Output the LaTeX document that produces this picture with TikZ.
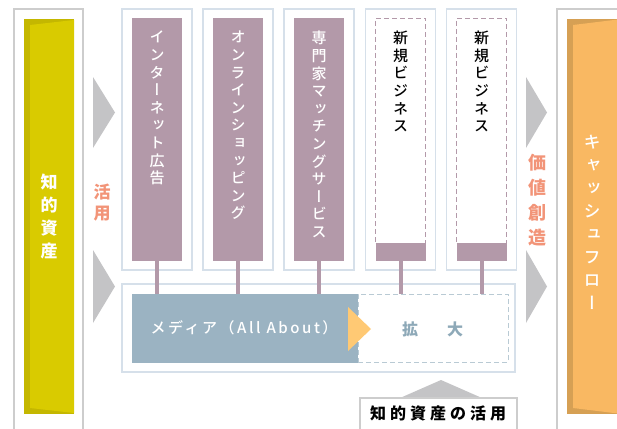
\documentclass[tikz,border=0pt]{standalone}
\usepackage{fontspec}
\newfontfamily\jp{Noto Sans CJK JP}
\newfontfamily\jpm[UprightFont=* Medium]{Noto Sans CJK JP}
\newfontfamily\jpv[RawFeature=+vert]{Noto Sans CJK JP}
\newfontfamily\jpvm[UprightFont=* Medium, RawFeature=+vert]{Noto Sans CJK JP}
\usetikzlibrary{positioning}

\definecolor{assetyellow}{HTML}{D9CB00}
\definecolor{assetdark}{HTML}{C4B700}
\definecolor{cashorange}{HTML}{F9B862}
\definecolor{cashdark}{HTML}{D6A054}
\definecolor{bizpurple}{HTML}{B399A9}
\definecolor{mediablue}{HTML}{9BB3C2}
\definecolor{framegray}{HTML}{CDCDCD}
\definecolor{frameblue}{HTML}{D6E0EA}
\definecolor{arrowgray}{HTML}{C4C4C6}
\definecolor{salmon}{HTML}{F29478}
\definecolor{tipyellow}{HTML}{FFC974}
\definecolor{expandtext}{HTML}{8EA9B8}

\begin{document}
\begin{tikzpicture}[x=1pt, y=-1pt,
  outer/.style={draw=frameblue, line width=1.5pt, minimum width=70pt, minimum height=261pt, inner sep=0pt},
  bizbar/.style={fill=bizpurple, minimum width=50pt, minimum height=243pt, inner sep=0pt},
  newbiz/.style={draw=bizpurple, dash pattern=on 5pt off 3pt, line width=0.8pt, minimum width=50pt, minimum height=225pt, inner sep=0pt},
  bizfoot/.style={fill=bizpurple, minimum width=50pt, minimum height=18pt, inner sep=0pt},
  vtext/.style={inner sep=0pt, align=center, font=\jpvm\fontsize{15}{17.6}\selectfont},
  link/.style={bizpurple, line width=4pt},
  flow/.style={fill=arrowgray}]

  \useasboundingbox (0,0) rectangle (617,428);

  % Left: intellectual assets
  \node[draw=framegray, line width=1.5pt, minimum width=69pt, minimum height=431pt, inner sep=0pt] (assetframe) at (48.5,224.5) {};
  \node[fill=assetdark, minimum width=50pt, minimum height=395pt, inner sep=0pt] (asset) at (49,216.5) {};
  \fill[assetyellow] (30,25) -- (74,20) -- (74,413) -- (30,408) -- cycle;
  \node[text=white, inner sep=0pt, align=center, font=\jpv\bfseries\fontsize{17}{23}\selectfont] (assettext) at (asset.center) {知\\的\\資\\産};

  % Arrows and label (use)
  \fill[flow] (93,77) -- (115,112.5) -- (93,148) -- cycle;
  \fill[flow] (93,250) -- (115,286.5) -- (93,323) -- cycle;
  \node[text=salmon, inner sep=0pt, align=center, font=\jpv\bfseries\fontsize{17}{21}\selectfont] (use) at (102,202.5) {活\\用};

  % Business frames
  \node[outer] (f1) at (157,139.5) {};
  \node[outer] (f2) at (238,139.5) {};
  \node[outer] (f3) at (319,139.5) {};
  \node[outer] (f4) at (400.5,139.5) {};
  \node[outer] (f5) at (481.5,139.5) {};

  % Businesses
  \node[bizbar] (ad) at (f1.center) {};
  \node[bizbar] (shop) at (f2.center) {};
  \node[bizbar] (expert) at (f3.center) {};
  \node[newbiz] (new1) at (400.5,130.5) {};
  \node[bizfoot] (foot1) at (400.5,252) {};
  \node[newbiz] (new2) at (481.5,130.5) {};
  \node[bizfoot] (foot2) at (481.5,252) {};

  \node[vtext, text=white, anchor=north] at (157,31) {イ\\ン\\タ\\ー\\ネ\\ッ\\ト\\広\\告};
  \node[vtext, text=white, anchor=north] at (238,31) {オ\\ン\\ラ\\イ\\ン\\シ\\ョ\\ッ\\ピ\\ン\\グ};
  \node[vtext, text=white, anchor=north] at (319,31) {専\\門\\家\\マ\\ッ\\チ\\ン\\グ\\サ\\ー\\ビ\\ス};
  \node[vtext, text=black, anchor=north] at (400.5,31) {新\\規\\ビ\\ジ\\ネ\\ス};
  \node[vtext, text=black, anchor=north] at (481.5,31) {新\\規\\ビ\\ジ\\ネ\\ス};

  % Media platform
  \node[draw=frameblue, line width=1.5pt, minimum width=393pt, minimum height=88pt, inner sep=0pt] (base) at (318.5,328) {};
  \node[fill=mediablue, minimum width=226pt, minimum height=69pt, inner sep=0pt] (media) at (245,328.5) {};
  \node[draw=mediablue!70, dash pattern=on 5pt off 3pt, line width=0.8pt, minimum width=150pt, minimum height=68pt, inner sep=0pt] (expand) at (433,328) {};
  \fill[tipyellow] (348,307) -- (371,329) -- (348,351) -- cycle;
  \node[text=white, font=\jpm\addfontfeatures{LetterSpace=17}\fontsize{15}{18}\selectfont] at (244,328) {メディア（All About）};
  \node[text=expandtext, font=\jp\bfseries\fontsize{16}{18}\selectfont] at (410,329) {拡};
  \node[text=expandtext, font=\jp\bfseries\fontsize{16}{18}\selectfont] at (455,329) {大};

  % Links
  \draw[link] (ad.south) -- (ad.south |- media.north);
  \draw[link] (shop.south) -- (shop.south |- media.north);
  \draw[link] (expert.south) -- (expert.south |- media.north);
  \draw[link] (foot1.south) -- (foot1.south |- expand.north);
  \draw[link] (foot2.south) -- (foot2.south |- expand.north);

  % Use of intellectual assets
  \fill[flow] (400,398) -- (441,380) -- (482,398) -- cycle;
  \node[draw=framegray, line width=1.5pt, minimum width=157pt, minimum height=32pt, inner sep=0pt] (usebox) at (438.5,414) {};
  \node[font=\jp\bfseries\addfontfeatures{LetterSpace=25}\fontsize{16}{18}\selectfont, inner sep=0pt] at (438,413) {知的資産の活用};

  % Arrows and label (value creation)
  \fill[flow] (526,77) -- (547,112.5) -- (526,148) -- cycle;
  \fill[flow] (526,250) -- (547,286.5) -- (526,323) -- cycle;
  \node[text=salmon, inner sep=0pt, align=center, font=\jpv\bfseries\fontsize{18}{25}\selectfont] (value) at (537,200) {価\\値\\創\\造};

  % Right: cash flow
  \node[draw=framegray, line width=1.5pt, minimum width=80pt, minimum height=431pt, inner sep=0pt] (cashframe) at (597,224.5) {};
  \node[fill=cashdark, minimum width=55pt, minimum height=395pt, inner sep=0pt] (cash) at (594.5,216.5) {};
  \fill[cashorange] (573,25) -- (622,19) -- (622,414) -- (573,408) -- cycle;
  \node[text=white, inner sep=0pt, align=center, font=\jpvm\fontsize{17}{23}\selectfont] (cashtext) at (592,222.5) {キ\\ャ\\ッ\\シ\\ュ\\フ\\ロ\\ー};

\end{tikzpicture}
\end{document}
